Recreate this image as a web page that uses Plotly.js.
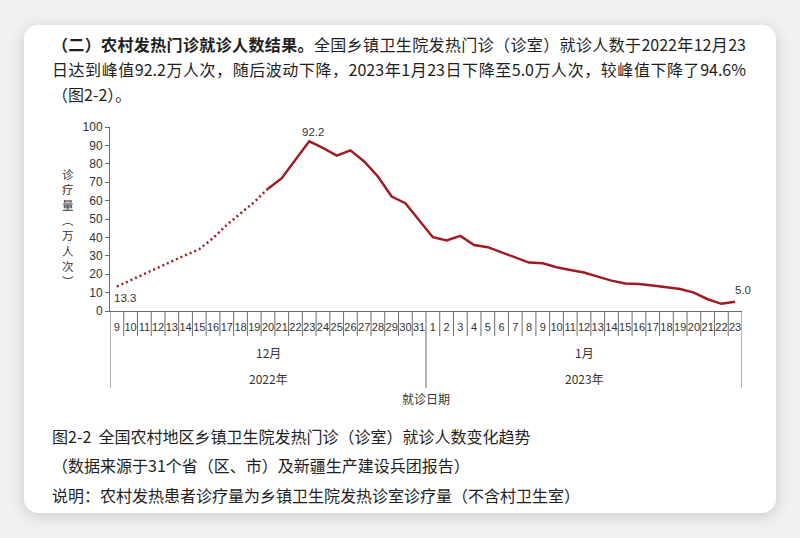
<!DOCTYPE html>
<html lang="zh-CN">
<head>
<meta charset="utf-8">
<script src="https://cdn.plot.ly/plotly-3.0.1.min.js"></script>
<style>
  html, body { margin: 0; padding: 0; }
  body { width: 800px; height: 538px; background: #f1f1f1; position: relative; overflow: hidden;
         font-family: "Noto Sans CJK SC", "Noto Sans", sans-serif; color: #1e1e1e; }
  .card { position: absolute; left: 24px; top: 25px; width: 752px; height: 488px; background: #fff;
          border-radius: 14px; box-shadow: 0 3px 16px rgba(0,0,0,0.16); }
  .line { position: absolute; left: 52px; font-size: 16px; line-height: 25px; white-space: nowrap; }
  .just { width: 694px; text-align: justify; text-align-last: justify; }
  #chart { position: absolute; left: 0; top: 0; width: 800px; height: 538px; }
</style>
</head>
<body>
<div class="card"></div>
<div class="line just" style="top:32px"><b>（二）农村发热门诊就诊人数结果。</b>全国乡镇卫生院发热门诊（诊室）就诊人数于2022年12月23</div>
<div class="line just" style="top:57px">日达到峰值92.2万人次，随后波动下降，2023年1月23日下降至5.0万人次，较峰值下降了94.6%</div>
<div class="line" style="top:82px">（图2-2）。</div>
<div class="line" style="top:424px">图2-2&nbsp;&nbsp;全国农村地区乡镇卫生院发热门诊（诊室）就诊人数变化趋势</div>
<div class="line" style="top:453px">（数据来源于31个省（区、市）及新疆生产建设兵团报告）</div>
<div class="line" style="top:483px">说明：农村发热患者诊疗量为乡镇卫生院发热诊室诊疗量（不含村卫生室）</div>
<div id="chart"></div>
<script>
// days shown on the axis
const decDays = [9, 10, 11, 12, 13, 14, 15, 16, 17, 18, 19, 20, 21, 22, 23, 24, 25, 26, 27, 28, 29, 30, 31];
const janDays = [1, 2, 3, 4, 5, 6, 7, 8, 9, 10, 11, 12, 13, 14, 15, 16, 17, 18, 19, 20, 21, 22, 23];
const months = ['12月', '1月'];
const years = ['2022年', '2023年'];
// visits, 万人次 (Dec 9 -> Jan 23)
const visits = [
  13.3, 16.8, 20.3, 23.8, 27.2, 30.4, 33.6, 39.6, 46.8, 53.2, 59.2, 66.5,
  72.2, 82.2, 92.2, 88.6, 84.4, 87.3, 81.3, 73.1, 62.2, 58.6, 49.4,
  40.1, 38.3, 40.8, 35.9, 34.7, 31.9, 29.2, 26.3, 25.9, 23.8, 22.3, 20.9, 18.7,
  16.5, 14.9, 14.7, 13.8, 12.9, 12.0, 10.0, 6.4, 3.9, 5.0
];
const dottedUntil = 11; // Dec 20: dotted part ends here
const yTitle = ['诊', '疗', '量', '︵', '万', '人', '次', '︶'];

const categories = decDays.map(d => '2022-12-' + d).concat(janDays.map(d => '2023-1-' + d));
const dayLabels = decDays.concat(janDays).map(String);
const red = '#a01c24';
const axisCol = '#6b6b6b';
const txtCol = '#333';
const numFont = 'Liberation Sans Narrow, Liberation Sans, Arial, sans-serif';
const cjkFont = 'Noto Sans CJK SC, sans-serif';

const data = [
  {
    x: categories.slice(0, dottedUntil + 1),
    y: visits.slice(0, dottedUntil + 1),
    type: 'scatter', mode: 'lines',
    line: { color: red, width: 2.5, dash: '2px,3px' }
  },
  {
    x: categories.slice(dottedUntil),
    y: visits.slice(dottedUntil),
    type: 'scatter', mode: 'lines',
    line: { color: red, width: 2.5 }
  }
];

// px -> paper y (plot bottom at 311, height 184)
const py = p => -(p - 311) / 184;

const shapes = [];
for (let i = 0; i <= categories.length; i++) {
  const isMonth = i === 0 || i === decDays.length || i === categories.length;
  shapes.push({
    type: 'line', xref: 'x', yref: 'paper',
    x0: i - 0.5, x1: i - 0.5, y0: 0, y1: isMonth ? py(388) : py(336),
    line: { color: axisCol, width: 1 }
  });
}

const peak = visits.indexOf(Math.max(...visits));
const last = visits.length - 1;
const annotations = [
  { x: categories[0], y: visits[0], text: visits[0].toFixed(1), xshift: 8, yshift: -11 },
  { x: categories[peak], y: visits[peak], text: visits[peak].toFixed(1), xshift: 4, yshift: 9 },
  { x: categories[last], y: visits[last], text: visits[last].toFixed(1), xshift: 8, yshift: 12 }
].map(a => Object.assign(a, { xref: 'x', yref: 'y', showarrow: false, font: { family: numFont, size: 11.5, color: txtCol } }));

const monthCenters = [(decDays.length - 1) / 2, decDays.length + (janDays.length - 1) / 2];
monthCenters.forEach((c, k) => {
  annotations.push({ x: c, y: py(352), xref: 'x', yref: 'paper', text: months[k], showarrow: false,
    yanchor: 'middle', font: { family: cjkFont, size: 12, color: txtCol } });
  annotations.push({ x: c, y: py(378), xref: 'x', yref: 'paper', text: years[k], showarrow: false,
    yanchor: 'middle', font: { family: cjkFont, size: 12, color: txtCol } });
});
annotations.push({ x: 0.5, y: py(398), xref: 'paper', yref: 'paper', text: '就诊日期', showarrow: false,
  yanchor: 'middle', font: { family: cjkFont, size: 12, color: txtCol } });
// vertical stacked axis title, one character per row
yTitle.forEach((ch, k) => {
  annotations.push({ x: (68 - 110) / 632, y: py(174 + k * 15.3), xref: 'paper', yref: 'paper',
    text: ch, showarrow: false, xanchor: 'center', yanchor: 'middle', borderpad: 0,
    font: { family: cjkFont, size: 11.5, color: txtCol } });
});

const layout = {
  width: 800, height: 538,
  margin: { l: 110, r: 58, t: 127, b: 227 },
  paper_bgcolor: 'rgba(0,0,0,0)',
  plot_bgcolor: 'rgba(0,0,0,0)',
  showlegend: false,
  xaxis: {
    type: 'category', range: [-0.5, categories.length - 0.5],
    tickvals: categories, ticktext: dayLabels,
    ticks: 'outside', ticklen: 6, tickcolor: 'rgba(0,0,0,0)',
    tickangle: 0,
    showline: true, linecolor: axisCol, linewidth: 1,
    showgrid: false, zeroline: false,
    tickfont: { family: numFont, size: 11, color: txtCol }
  },
  yaxis: {
    range: [0, 100], dtick: 10,
    ticks: 'outside', ticklen: 4, tickcolor: axisCol,
    showline: true, linecolor: axisCol, linewidth: 1,
    showgrid: false, zeroline: false,
    tickfont: { family: numFont, size: 12, color: txtCol }
  },
  shapes: shapes,
  annotations: annotations
};

Plotly.newPlot('chart', data, layout, { displayModeBar: false, staticPlot: true });
</script>
</body>
</html>
